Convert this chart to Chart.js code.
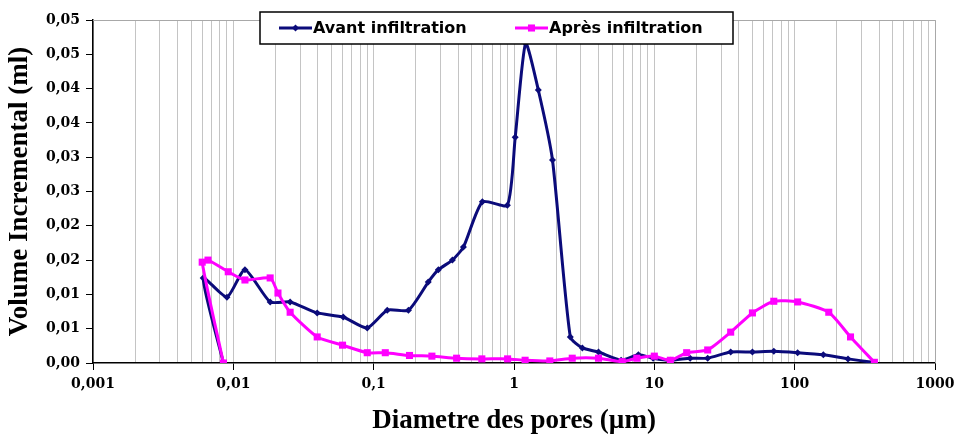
<!DOCTYPE html>
<html>
<head>
<meta charset="utf-8">
<script src="https://cdn.jsdelivr.net/npm/chart.js@4/dist/chart.umd.min.js"></script>
<style>
  html, body { margin: 0; padding: 0; background: #ffffff; }
  canvas { display: block; }
</style>
</head>
<body>
<canvas id="chart" width="957" height="441"></canvas>
<script>
// Pore size distribution (mercury intrusion): incremental volume vs pore diameter
const seriesNames = ['Avant infiltration', 'Après infiltration'];

const avantDiametre = [0.0085, 0.0061, 0.0090, 0.0121, 0.0183, 0.0254, 0.0396, 0.0607, 0.090, 0.125,
  0.177, 0.245, 0.289, 0.364, 0.436, 0.595, 0.897, 1.02, 1.21, 1.49, 1.88, 2.52, 3.07, 4.0, 5.8,
  7.7, 9.8, 13, 18, 24, 35, 50, 71, 105, 160, 240, 360];
const avantVolume = [0.0000, 0.0124, 0.0096, 0.0136, 0.0089, 0.0089, 0.0073, 0.0067, 0.0051, 0.0077,
  0.0077, 0.0118, 0.0136, 0.0150, 0.0169, 0.0235, 0.0230, 0.0329, 0.0466, 0.0398, 0.0296, 0.0038, 0.0022, 0.0016, 0.0004,
  0.0012, 0.0007, 0.0004, 0.0007, 0.0007, 0.0016, 0.0016, 0.0017, 0.0015, 0.0012, 0.0006, 0.0001];

const apresDiametre = [0.0085, 0.0060, 0.0066, 0.0092, 0.0121, 0.0183, 0.0208, 0.0254, 0.0396, 0.060,
  0.090, 0.121, 0.18, 0.26, 0.39, 0.59, 0.9, 1.2, 1.8, 2.6, 4.0, 5.9, 7.5, 10, 13, 17, 24, 35,
  50, 71, 105, 175, 250, 370];
const apresVolume = [0.0000, 0.0147, 0.0150, 0.0133, 0.0121, 0.0124, 0.0102, 0.0074, 0.0038, 0.0026,
  0.0015, 0.0015, 0.0011, 0.0010, 0.0007, 0.0006, 0.0006, 0.0004, 0.0003, 0.0007, 0.0007, 0.0002, 0.0007, 0.0010, 0.0004, 0.0015, 0.0019, 0.0045,
  0.0073, 0.0090, 0.0089, 0.0074, 0.0038, 0.0001];

const yTickValues = [0, 0.005, 0.010, 0.015, 0.020, 0.025, 0.030, 0.035, 0.040, 0.045, 0.050];
const yTickLabels = ['0,00', '0,01', '0,01', '0,02', '0,02', '0,03', '0,03', '0,04', '0,04', '0,05', '0,05'];
const xDecades = [0.001, 0.01, 0.1, 1, 10, 100, 1000];
const xDecadeLabels = ['0,001', '0,01', '0,1', '1', '10', '100', '1000'];

const NAVY = '#0b0b7a';
const MAGENTA = '#ff00ff';

function toPoints(xs, ys) {
  return xs.map((x, i) => ({ x: x, y: ys[i] }));
}

function isDecade(v) {
  return xDecades.some(d => Math.abs(v - d) / d < 1e-6);
}

// all 1..9 x 10^k positions for the log grid
function logGridValues() {
  const vals = [];
  for (let k = 0; k < xDecades.length - 1; k++) {
    for (let m = 1; m <= 9; m++) vals.push(xDecades[k] * m);
  }
  vals.push(xDecades[xDecades.length - 1]);
  return vals;
}

// gray frame around the plot area (top and right edges)
const plotFrame = {
  id: 'plotFrame',
  beforeDatasetsDraw(chart) {
    const a = chart.chartArea, ctx = chart.ctx;
    ctx.save();
    ctx.strokeStyle = '#a8a8a8';
    ctx.lineWidth = 1;
    ctx.beginPath();
    ctx.moveTo(a.left, a.top + 0.5);
    ctx.lineTo(a.right + 0.5, a.top + 0.5);
    ctx.lineTo(a.right + 0.5, a.bottom);
    ctx.stroke();
    ctx.restore();
  }
};

// boxed legend placed over the top of the plot
const boxedLegend = {
  id: 'boxedLegend',
  afterDraw(chart) {
    const ctx = chart.ctx;
    const box = { x: 260, y: 12, w: 473, h: 32 };
    ctx.save();
    ctx.fillStyle = '#ffffff';
    ctx.fillRect(box.x, box.y, box.w, box.h);
    ctx.strokeStyle = '#000000';
    ctx.lineWidth = 1.5;
    ctx.strokeRect(box.x, box.y, box.w, box.h);
    const cy = box.y + box.h / 2;
    const items = [
      { x: 279, color: NAVY, style: 'rectRot', r: 3.5 },
      { x: 515, color: MAGENTA, style: 'rect', r: 5 }
    ];
    ctx.font = 'bold 16px "DejaVu Sans"';
    ctx.textBaseline = 'middle';
    ctx.textAlign = 'left';
    items.forEach((it, i) => {
      ctx.strokeStyle = it.color;
      ctx.lineWidth = 3;
      ctx.beginPath();
      ctx.moveTo(it.x, cy);
      ctx.lineTo(it.x + 33, cy);
      ctx.stroke();
      ctx.fillStyle = it.color;
      Chart.helpers.drawPoint(ctx, { pointStyle: it.style, radius: it.r, borderWidth: 0 }, it.x + 16.5, cy);
      ctx.fillStyle = '#000000';
      ctx.fillText(seriesNames[i], it.x + 34, cy + 1);
    });
    ctx.restore();
  }
};

const tickFont = { family: '"DejaVu Serif"', size: 14, weight: 'bold' };
const titleFont = { family: '"Liberation Serif"', size: 27, weight: 'bold' };

new Chart(document.getElementById('chart'), {
  type: 'line',
  data: {
    datasets: [
      {
        label: seriesNames[0],
        data: toPoints(avantDiametre, avantVolume),
        borderColor: NAVY,
        backgroundColor: NAVY,
        borderWidth: 3,
        pointStyle: 'rectRot',
        pointRadius: 3.5,
        pointBorderWidth: 0,
        tension: 0.2,
        order: 1
      },
      {
        label: seriesNames[1],
        data: toPoints(apresDiametre, apresVolume),
        borderColor: MAGENTA,
        backgroundColor: MAGENTA,
        borderWidth: 3,
        pointStyle: 'rect',
        pointRadius: 5,
        pointBorderWidth: 0,
        tension: 0.2,
        order: 0
      }
    ]
  },
  options: {
    responsive: false,
    animation: false,
    layout: { padding: { top: 20, right: 22, left: 0, bottom: 0 } },
    plugins: {
      legend: { display: false },
      tooltip: { enabled: false }
    },
    scales: {
      x: {
        type: 'logarithmic',
        min: 0.001,
        max: 1000,
        afterBuildTicks(scale) {
          scale.ticks = logGridValues().map(v => ({ value: v }));
        },
        afterFit(scale) {
          scale.height = 78;
          scale.paddingLeft = 0;
          scale.paddingRight = 0;
        },
        ticks: {
          autoSkip: false,
          maxRotation: 0,
          padding: 6,
          color: '#000000',
          font: tickFont,
          callback(value) {
            const i = xDecades.findIndex(d => Math.abs(value - d) / d < 1e-6);
            return i >= 0 ? xDecadeLabels[i] : '';
          }
        },
        grid: {
          color: '#c4c4c4',
          lineWidth: 1,
          tickLength: 7,
          tickColor: ctx => (ctx.tick && isDecade(ctx.tick.value)) ? '#000000' : 'rgba(0,0,0,0)'
        },
        border: { color: '#000000', width: 1.5 },
        title: {
          display: true,
          text: 'Diametre des pores (µm)',
          color: '#000000',
          font: titleFont,
          padding: { top: 0, bottom: 4 }
        }
      },
      y: {
        type: 'linear',
        min: 0,
        max: 0.05,
        afterBuildTicks(scale) {
          scale.ticks = yTickValues.map(v => ({ value: v }));
        },
        afterFit(scale) { scale.width = 93; },
        ticks: {
          padding: 6,
          color: '#000000',
          font: tickFont,
          callback(value, index) { return yTickLabels[index]; }
        },
        grid: {
          drawOnChartArea: false,
          drawTicks: true,
          tickLength: 7,
          tickColor: '#000000'
        },
        border: { color: '#000000', width: 1.5 },
        title: {
          display: true,
          text: 'Volume Incremental (ml)',
          color: '#000000',
          font: titleFont,
          padding: { top: 4, bottom: 0 }
        }
      }
    }
  },
  plugins: [plotFrame, boxedLegend]
});
</script>
</body>
</html>
